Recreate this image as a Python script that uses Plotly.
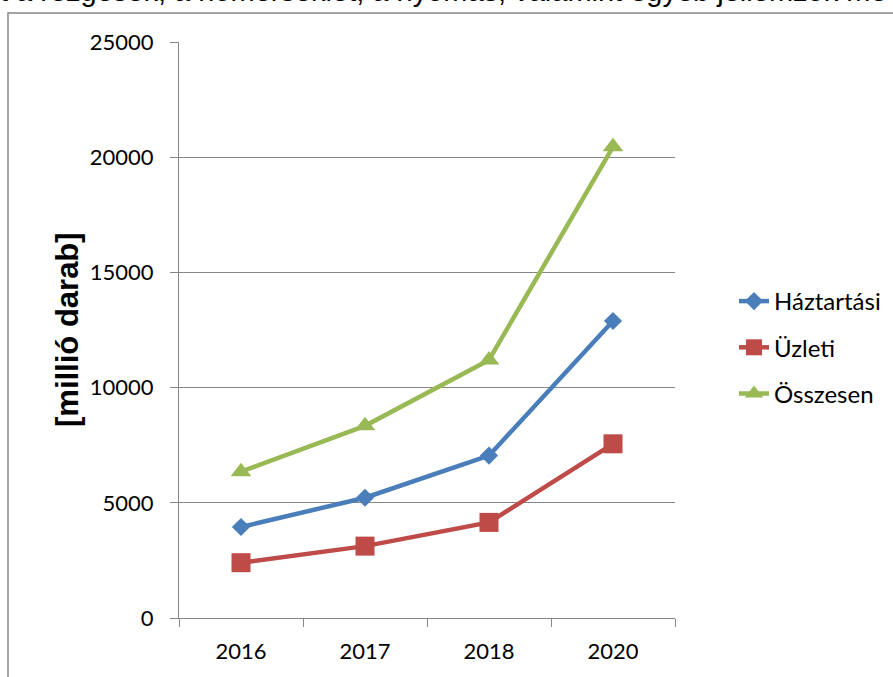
import plotly.graph_objects as go

years = ["2016", "2017", "2018", "2020"]
haztartasi = [3950, 5220, 7050, 12890]
uzleti = [2400, 3120, 4150, 7560]
osszesen = [6350, 8340, 11200, 20450]

series_names = ["Háztartási", "Üzleti", "Összesen"]
colors = ["#4A7EBB", "#BE4B48", "#98B954"]
symbols = ["diamond", "square", "triangle-up"]
marker_sizes = [14, 19, 18]

W, H = 893, 677
# plot area in screen pixels: x 179..675, y 42..618
L, R, T, B = 179, 893 - 675, 42, 677 - 618
pw, ph = W - L - R, H - T - B

fig = go.Figure()
for i, (name, vals) in enumerate(zip(series_names, [haztartasi, uzleti, osszesen])):
    fig.add_trace(go.Scatter(
        x=years, y=vals, name=name, mode="lines+markers",
        line=dict(color=colors[i], width=4.5),
        marker=dict(symbol=symbols[i], size=marker_sizes[i], color=colors[i]),
        legendgroup=name,
    ))

def px_x(p):  # screen px -> paper
    return (p - L) / pw

def px_y(p):
    return (H - B - p) / ph

fig.update_layout(
    width=W, height=H,
    margin=dict(l=L, r=R, t=T, b=B, autoexpand=False),
    paper_bgcolor="white", plot_bgcolor="white",
    showlegend=True,
    legend=dict(
        x=px_x(734), y=px_y(279), xanchor="left", yanchor="top",
        font=dict(family="Lato", size=24, color="black"),
        tracegroupgap=12, bgcolor="rgba(0,0,0,0)",
    ),
    xaxis=dict(
        type="category", range=[-0.5, len(years) - 0.5],
        showgrid=False, showline=True, linecolor="#868686", linewidth=1,
        ticks="outside", tickson="boundaries", ticklen=8, tickcolor="#868686",
        tickfont=dict(family="Lato", size=22, color="black"),
        ticklabelstandoff=14, automargin=False,
    ),
    yaxis=dict(
        range=[0, 25000], dtick=5000, tickformat="d",
        showgrid=True, gridcolor="#868686", gridwidth=1,
        showline=True, linecolor="#868686", linewidth=1, zeroline=False,
        ticks="outside", ticklen=8, tickcolor="#868686",
        tickfont=dict(family="Lato", size=22, color="black"),
        ticklabelstandoff=12, automargin=False,
    ),
    shapes=[dict(type="rect", xref="paper", yref="paper",
                 x0=px_x(8), x1=px_x(1000), y0=px_y(800), y1=px_y(13),
                 line=dict(color="#868686", width=1.5), fillcolor="rgba(0,0,0,0)", layer="above")],
    annotations=[
        dict(
            text="t a rezgések, a hőmérséklet, a nyomás, valamint egyéb jellemzők mé",
            xref="paper", yref="paper", x=px_x(-2), y=px_y(9), xanchor="left", yanchor="bottom",
            showarrow=False, font=dict(family="Liberation Sans", size=29, color="black"),
        ),
        dict(
            text="[millió darab]", textangle=-90,
            xref="paper", yref="paper", x=px_x(67), y=px_y(330), xanchor="center", yanchor="middle",
            showarrow=False,
            font=dict(family="Liberation Sans", size=31, color="black", weight="bold"),
        ),
    ],
)

fig.write_html("out.html", config={"displayModeBar": False},
               post_script="document.body.style.margin='0';")
